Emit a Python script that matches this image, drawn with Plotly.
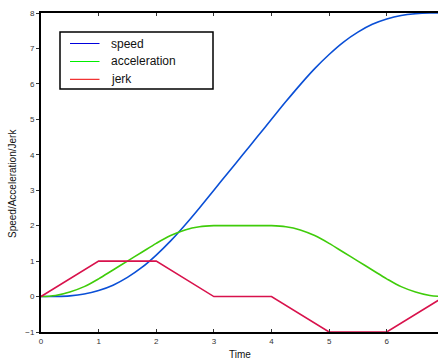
import plotly.graph_objects as go

# data
t_fine = [i * 0.25 for i in range(29)]
speed = [0, 0.003, 0.02, 0.07, 0.17, 0.32, 0.54, 0.82, 1.17, 1.57, 2.02, 2.5, 3.0,
         3.5, 4.0, 4.5, 5.0, 5.5, 5.98, 6.43, 6.83, 7.18, 7.46, 7.68, 7.83, 7.93,
         7.98, 8.0, 8.0]
acceleration = [0, 0.03, 0.13, 0.28, 0.5, 0.75, 1.0, 1.25, 1.5, 1.72, 1.88, 1.97, 2.0,
                2.0, 2.0, 2.0, 2.0, 1.97, 1.88, 1.72, 1.5, 1.25, 1.0, 0.75, 0.5, 0.28,
                0.13, 0.03, 0]
t_jerk = [0, 1, 2, 3, 4, 5, 6, 7]
jerk = [0, 1, 1, 0, 0, -1, -1, 0]

series_names = ["speed", "acceleration", "jerk"]
legend_colors = ["#0000dd", "#00ee00", "#ee0000"]

x_ticks = [0, 1, 2, 3, 4, 5, 6]
y_ticks = [-1, 0, 1, 2, 3, 4, 5, 6, 7, 8]

FONT = "Liberation Sans, Arial, Helvetica, sans-serif"
L, T, W, H = 41, 13, 397, 319


def px(x):
    return (x - L) / W


def py(y):
    return (T + H - y) / H


fig = go.Figure()
fig.add_trace(go.Scatter(x=t_fine, y=speed, mode="lines", name=series_names[0],
                         line=dict(color="#0a4fd6", width=1.6, shape="spline")))
fig.add_trace(go.Scatter(x=t_fine, y=acceleration, mode="lines", name=series_names[1],
                         line=dict(color="#3fcc0a", width=1.6, shape="spline")))
fig.add_trace(go.Scatter(x=t_jerk, y=jerk, mode="lines", name=series_names[2],
                         line=dict(color="#d8124c", width=1.6)))

shapes = [dict(type="rect", xref="paper", yref="paper",
               x0=px(60), x1=px(213), y0=py(89), y1=py(32),
               line=dict(color="black", width=1.5), fillcolor="rgba(0,0,0,0)")]
annotations = []
rows = [43.5, 61.5, 79.3]
for name, col, r in zip(series_names, legend_colors, rows):
    shapes.append(dict(type="line", xref="paper", yref="paper",
                       x0=px(70), x1=px(99.5), y0=py(r), y1=py(r),
                       line=dict(color=col, width=1)))
    annotations.append(dict(text=name, xref="paper", yref="paper", x=px(109), y=py(r),
                            xanchor="left", yanchor="middle", showarrow=False,
                            font=dict(size=12, color="#111")))

annotations += [
    dict(text="Time", xref="paper", yref="paper", x=px(240), y=py(354),
         xanchor="center", yanchor="middle", showarrow=False,
         font=dict(size=10, color="#111")),
    dict(text="Speed/Acceleration/Jerk", xref="paper", yref="paper", x=px(12),
         y=py(184), xanchor="center", yanchor="middle", textangle=-90,
         showarrow=False, font=dict(size=10, color="#111")),
]

fig.update_layout(
    width=438, height=360,
    margin=dict(l=L, r=0, t=T, b=360 - T - H),
    paper_bgcolor="white", plot_bgcolor="white",
    font=dict(family=FONT, size=8, color="#333333"),
    showlegend=False,
    xaxis=dict(range=[0, 6.89], tickvals=x_ticks, ticks="inside", ticklen=3,
               tickcolor="#333", showline=True, linecolor="black", linewidth=2,
               mirror="ticks", showgrid=False, zeroline=False),
    yaxis=dict(range=[-1, 8], tickvals=y_ticks, ticks="outside", ticklen=3,
               tickcolor="#333", showline=True, linecolor="black", linewidth=2,
               showgrid=False, zeroline=False),
    shapes=shapes,
    annotations=annotations,
)

fig.write_html("out.html")
